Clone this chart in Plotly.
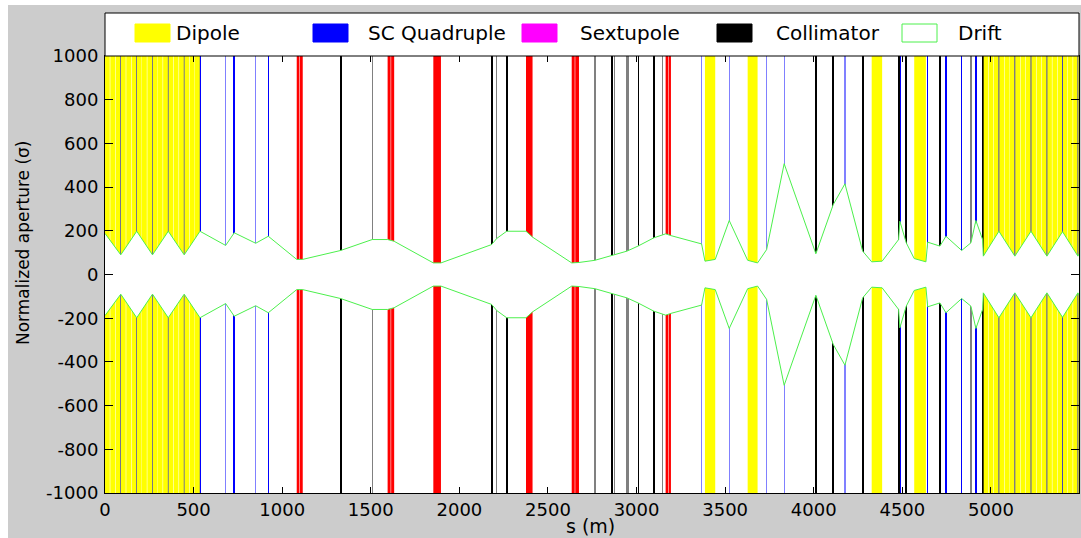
import plotly.graph_objects as go

# ---------------- lattice data (s in metres, apertures in sigma) ----------------
dipole_start = [0, 30, 60, 90, 120, 150, 180, 209, 239, 269, 298, 328, 358, 388, 418, 448, 478, 507,
                3386, 3627, 4327, 4567,
                4959, 4988, 5017, 5047, 5077, 5106, 5137, 5167, 5197, 5228, 5258, 5288,
                5318, 5347, 5376, 5406, 5435, 5464, 5493]
dipole_len = [27, 27, 27, 27, 27, 27, 27, 27, 27, 27, 27, 27, 27, 27, 27, 27, 27, 28,
              58, 56, 59, 66,
              26, 26, 26, 27, 27, 27, 27, 27, 27, 27, 27, 26,
              26, 26, 26, 26, 26, 25, 10]

quad_s = [89, 179, 268, 357, 447, 536, 681, 729.5, 850.5, 921.6,
          3367, 3523, 3734, 3833, 4176, 4276, 4486, 4643, 4746, 4835, 4915, 4957,
          5045, 5135, 5226, 5316, 5404, 5491]
quad_len = [3, 3, 3, 3, 3, 3, 1.5, 3, 1.5, 3,
            1.5, 1.5, 1.5, 1.5, 1.5, 3, 3, 3, 3, 3, 3, 3,
            3, 3, 3, 3, 3, 3]

sext_s = [5400]
sext_len = [2]

cavity_start = [1082, 1100, 1595, 1615, 1853, 2376, 2634, 2654, 3164, 3181]
cavity_len = [15, 16, 17, 17, 43, 37, 17, 21, 14, 13]

coll_s = [1330, 1508, 2182, 2211, 2267, 2765, 2863, 2874, 2944, 2952, 3010, 3098, 3147,
          4012, 4110, 4278, 4479, 4522, 4712, 4887, 4953]
coll_len = [5, 2, 5, 2, 5, 2, 5, 2, 2, 2, 3, 5, 2,
            5, 5, 5, 5, 5, 5, 2, 5]
coll_ap = [12, 12, 12, 12, 12, 12, 12, 12, 12, 12, 12, 12, 12,
           12, 12, 12, 12, 12, 12, 12, 12]

env_s = [0, 89, 179, 268, 357, 447, 536,
         681, 729.5, 850.5, 921.6, 1082, 1115, 1330, 1508, 1595, 1632, 1853, 1896,
         2182, 2211, 2267, 2376, 2413, 2634, 2675, 2765, 2867, 2946, 3008, 3098,
         3164, 3194, 3367, 3386, 3444, 3523, 3627, 3683, 3734, 3833, 4012, 4110,
         4176, 4276, 4327, 4386, 4479, 4486, 4522, 4567, 4633, 4643, 4712, 4746,
         4835, 4887, 4915, 4953, 4957,
         5045, 5135, 5226, 5316, 5404, 5491, 5497]
env_ap = [188, 90, 198, 90, 198, 90, 198,
          133, 191, 143, 175, 69, 69, 110, 160, 160, 152, 53, 53,
          137, 165, 198, 198, 171, 53, 55, 65, 87, 107, 130, 168,
          186, 178, 140, 61, 69, 247, 65, 53, 114, 507, 95, 320,
          415, 107, 58, 61, 160, 244, 145, 73, 58, 148, 130, 175,
          110, 145, 247, 160, 84,
          198, 84, 198, 84, 196, 84, 95]

x_ticks = [0, 500, 1000, 1500, 2000, 2500, 3000, 3500, 4000, 4500, 5000]
y_ticks = [-1000, -800, -600, -400, -200, 0, 200, 400, 600, 800, 1000]

legend_labels = ["Dipole", "SC Quadruple", "Sextupole", "Collimator", "Drift"]

# ---------------- figure geometry ----------------
W, H = 1081, 538
L_M, R_M, T_M, B_M = 105, 2, 56, 45
PW, PH = W - L_M - R_M, H - T_M - B_M
S_MAX = 5497
YLIM = 1000
FONT = "DejaVu Sans"


def px_x(p):
    return (p - L_M) / PW


def px_y(p):
    return (H - B_M - p) / PH


def rect_path(starts, lengths):
    xs, ys = [], []
    for s0, ln in zip(starts, lengths):
        xs += [s0, s0 + ln, s0 + ln, s0, s0, None]
        ys += [-YLIM, -YLIM, YLIM, YLIM, -YLIM, None]
    return xs, ys


fig = go.Figure()

# dipoles
dx, dy = rect_path(dipole_start, dipole_len)
fig.add_trace(go.Scatter(x=dx, y=dy, mode="lines", fill="toself", fillcolor="#ffff00",
                         line=dict(width=0), hoverinfo="skip"))

# red straight-section elements
cx, cy = rect_path(cavity_start, cavity_len)
fig.add_trace(go.Scatter(x=cx, y=cy, mode="lines", fill="toself", fillcolor="#ff0000",
                         line=dict(width=0), hoverinfo="skip"))

# quadrupoles: strong ones solid blue, short ones lighter
for keep, col in ((lambda l: l >= 2, "#0000ff"), (lambda l: l < 2, "#8080ff")):
    qs = [s for s, l in zip(quad_s, quad_len) if keep(l)]
    ql = [l for l in quad_len if keep(l)]
    fig.add_trace(go.Bar(x=qs, width=ql, y=[2 * YLIM] * len(qs), base=[-YLIM] * len(qs),
                         marker=dict(color=col, line=dict(width=0)), hoverinfo="skip"))

# sextupoles
fig.add_trace(go.Bar(x=sext_s, width=sext_len, y=[2 * YLIM] * len(sext_s),
                     base=[-YLIM] * len(sext_s),
                     marker=dict(color="#ff00ff", line=dict(width=0)), hoverinfo="skip"))

# beam-stay-clear region (drift aperture) with green outline
fig.add_trace(go.Scatter(x=env_s, y=[-a for a in env_ap], mode="lines",
                         line=dict(color="#4cf04c", width=1), hoverinfo="skip"))
fig.add_trace(go.Scatter(x=env_s, y=env_ap, mode="lines", fill="tonexty",
                         fillcolor="#ffffff", line=dict(color="#4cf04c", width=1),
                         hoverinfo="skip"))

# collimators, open only around the beam
for keep, col in ((lambda l: l >= 3, "#000000"), (lambda l: l < 3, "#808080")):
    idx = [i for i, l in enumerate(coll_len) if keep(l)]
    xs = [coll_s[i] for i in idx] * 2
    ws = [coll_len[i] for i in idx] * 2
    base = [coll_ap[i] for i in idx] + [-YLIM for i in idx]
    hgt = [YLIM - coll_ap[i] for i in idx] * 2
    fig.add_trace(go.Bar(x=xs, width=ws, y=hgt, base=base,
                         marker=dict(color=col, line=dict(width=0)), hoverinfo="skip"))

# ---------------- background, legend box, titles ----------------
shapes = [
    dict(type="rect", xref="paper", yref="paper", x0=px_x(0), x1=px_x(W), y0=px_y(0), y1=px_y(5),
         fillcolor="#ffffff", line=dict(width=0), layer="below"),
    dict(type="rect", xref="paper", yref="paper", x0=px_x(0), x1=px_x(8), y0=px_y(H), y1=px_y(0),
         fillcolor="#ffffff", line=dict(width=0), layer="below"),
    dict(type="rect", xref="paper", yref="paper", x0=0, x1=1, y0=1, y1=px_y(13),
         fillcolor="#ffffff", line=dict(color="#000000", width=1)),
]
swatch_left = [135, 313, 522, 717, 902]
text_left = [174, 366, 578, 774, 956]
swatch_fill = ["#ffff00", "#0000ff", "#ff00ff", "#000000", "#ffffff"]
swatch_edge = ["#ffff00", "#0000ff", "#ff00ff", "#000000", "#4cf04c"]
annotations = []
for lab, sl, tl, fc, ec in zip(legend_labels, swatch_left, text_left, swatch_fill, swatch_edge):
    shapes.append(dict(type="rect", xref="paper", yref="paper", x0=px_x(sl), x1=px_x(sl + 35),
                       y0=px_y(42), y1=px_y(24), fillcolor=fc, line=dict(color=ec, width=1)))
    annotations.append(dict(text=lab, xref="paper", yref="paper", x=px_x(tl), y=px_y(33),
                            xanchor="left", yanchor="middle", showarrow=False,
                            font=dict(family=FONT, size=20, color="#000000")))

annotations.append(dict(text="s (m)", xref="paper", yref="paper", x=px_x(590), y=px_y(526),
                        xanchor="center", yanchor="middle", showarrow=False,
                        font=dict(family=FONT, size=19, color="#000000")))
annotations.append(dict(text="Normalized aperture (σ)", xref="paper", yref="paper",
                        x=px_x(23), y=px_y(243), xanchor="center", yanchor="middle",
                        textangle=-90, showarrow=False,
                        font=dict(family=FONT, size=17, color="#000000")))

fig.update_layout(
    width=W, height=H,
    margin=dict(l=L_M, r=R_M, t=T_M, b=B_M, pad=0),
    paper_bgcolor="#cccccc", plot_bgcolor="#ffffff",
    barmode="overlay", bargap=0, showlegend=False,
    shapes=shapes, annotations=annotations,
    font=dict(family=FONT, size=18, color="#000000"),
)
fig.update_xaxes(range=[0, S_MAX], tickvals=x_ticks, ticktext=[str(v) for v in x_ticks],
                 ticks="inside", ticklen=6, tickcolor="#000000", showgrid=False,
                 zeroline=False, showline=True, linecolor="#000000", linewidth=1,
                 mirror="ticks", ticklabelstandoff=0, tickfont=dict(family=FONT, size=18))
fig.update_yaxes(range=[-YLIM, YLIM], tickvals=y_ticks, ticktext=[str(v) for v in y_ticks],
                 ticks="inside", ticklen=8, tickcolor="#000000", showgrid=False,
                 zeroline=False, showline=True, linecolor="#000000", linewidth=1,
                 mirror="ticks", ticklabelstandoff=2, tickfont=dict(family=FONT, size=18))

fig.write_html("out.html")
